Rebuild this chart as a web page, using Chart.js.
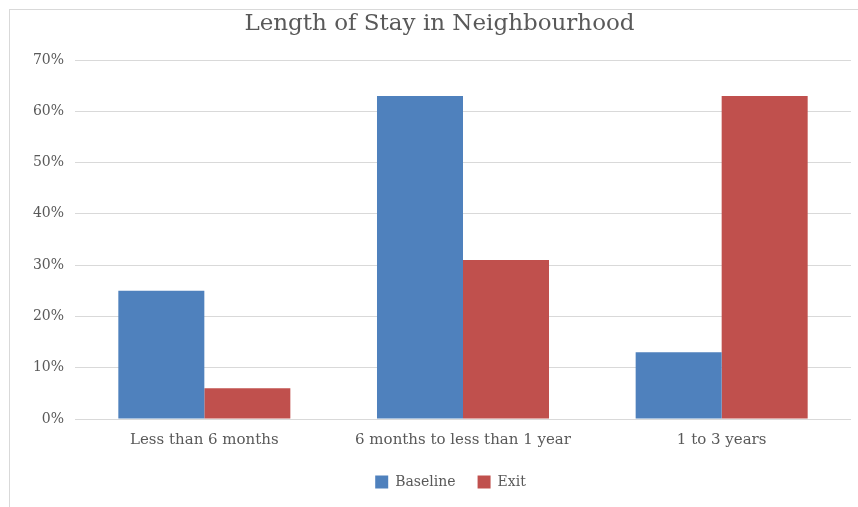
<!DOCTYPE html>
<html>
<head>
<meta charset="utf-8">
<script src="https://cdn.jsdelivr.net/npm/chart.js@4"></script>
<style>
  html, body { margin: 0; padding: 0; background: #fff; overflow: hidden; }
  #wrap { position: relative; width: 858px; height: 507px; overflow: hidden; }
  #frame { position: absolute; left: 9px; top: 9px; width: 900px; height: 600px; border: 1px solid #d9d9d9; box-sizing: border-box; }
  #c { position: absolute; left: 0; top: 0; }
</style>
</head>
<body>
<div id="wrap">
  <div id="frame"></div>
  <canvas id="c" width="858" height="507"></canvas>
</div>
<script>
// Length of stay categories and share of respondents per survey wave
const categories = ['Less than 6 months', '6 months to less than 1 year', '1 to 3 years'];
const baselineValues = [25, 63, 13];
const exitValues = [6, 31, 63];
const yTicks = [0, 10, 20, 30, 40, 50, 60, 70];

const FONT = "'DejaVu Serif', serif";
const TEXT = '#595959';

// Moves the title and legend boxes sideways so they sit centred on the frame
const centreShift = {
  id: 'centreShift',
  afterLayout(chart) {
    const t = chart.titleBlock;
    if (t) { t.left += 14; t.right += 14; }
    const lg = chart.legend;
    if (lg) { lg.left += 25; lg.right += 25; }
  }
};

new Chart(document.getElementById('c'), {
  type: 'bar',
  data: {
    labels: categories,
    datasets: [
      { label: 'Baseline', data: baselineValues, backgroundColor: '#4F81BD', borderWidth: 0 },
      { label: 'Exit', data: exitValues, backgroundColor: '#C0504D', borderWidth: 0 }
    ]
  },
  plugins: [centreShift],
  options: {
    responsive: false,
    animation: false,
    layout: { padding: { left: 0, right: 7, top: 10, bottom: 8 } },
    datasets: { bar: { categoryPercentage: 0.665, barPercentage: 1.0 } },
    plugins: {
      title: {
        display: true,
        text: 'Length of Stay in Neighbourhood',
        color: TEXT,
        font: { family: FONT, size: 23, weight: 'normal' },
        padding: { top: 0, bottom: 22.4 }
      },
      legend: {
        position: 'bottom',
        labels: {
          color: TEXT,
          font: { family: FONT, size: 14 },
          boxWidth: 13, boxHeight: 13,
          padding: 22
        }
      },
      tooltip: { enabled: false }
    },
    scales: {
      x: {
        afterFit: (s) => { s.height = 34; },
        grid: { display: false, drawTicks: false },
        border: { display: false },
        ticks: { color: TEXT, font: { family: FONT, size: 15 }, padding: 12, maxRotation: 0 }
      },
      y: {
        min: 0, max: 70,
        afterFit: (s) => { s.width = 75; },
        afterBuildTicks: (s) => { s.ticks = yTicks.map(v => ({ value: v })); },
        grid: { color: '#d9d9d9', lineWidth: 1, drawTicks: false },
        border: { display: false },
        ticks: { color: TEXT, font: { family: FONT, size: 14 }, padding: 11, callback: (v) => v + '%' }
      }
    }
  }
});
</script>
</body>
</html>
